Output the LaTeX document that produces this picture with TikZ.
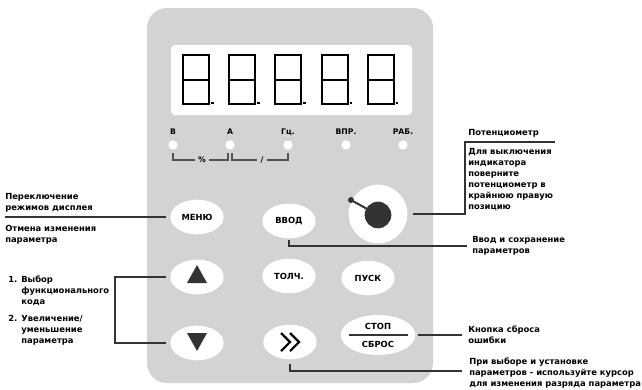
\documentclass[tikz,border=0pt]{standalone}
\usepackage{fontspec}
\setmainfont{DejaVu Sans}
\usetikzlibrary{shapes.geometric,positioning,calc}
\definecolor{panelgray}{HTML}{D3D3D3}
\definecolor{inkdark}{HTML}{333333}
\tikzset{
  key/.style={ellipse,fill=white,minimum width=40pt,minimum height=26pt,inner sep=0pt,font=\fontsize{6.3}{7}\selectfont\bfseries},
  keytxt/.style={inner sep=0pt,font=\fontsize{6.3}{7}\selectfont\bfseries},
  leader/.style={color=inkdark,line width=1.8pt,line cap=butt,line join=miter},
  note/.style={anchor=west,align=left,inner sep=0pt,font=\fontsize{6.3}{8.25}\selectfont\bfseries},
  led/.style={circle,fill=white,minimum size=7pt,inner sep=0pt},
  ledlabel/.style={inner sep=0.5pt,font=\fontsize{5.8}{7}\selectfont\bfseries},
  thinline/.style={color=inkdark!85,line width=0.9pt},
  segment/.style={draw=black,line width=1.4pt}
}
\begin{document}
\begin{tikzpicture}[x=0.75pt,y=-0.75pt]
  \useasboundingbox (0,0) rectangle (642,389);
  \path[fill=panelgray,rounded corners=15pt] (147,8) rectangle (433,383);
  \path[fill=white,rounded corners=3pt] (171,45) rectangle (412,115);
  \foreach \i in {0,...,4} {
    \draw[segment] (183+46.2*\i,55) rectangle +(26,49) (183+46.2*\i,80) -- +(26,0);
    \fill (211+46.2*\i,101.5) rectangle +(2.5,2.5);
  }

  \foreach \name/\x/\txt in {ledV/173/В,ledA/230/А,ledGc/288/Гц.,ledVpr/346/ВПР.,ledRab/403/РАБ.} {
    \node[led] (\name) at (\x,145) {};
    \node[ledlabel] (\name-t) at (\x,132) {\txt};
  }
  \node[ledlabel] (pct) at (202,160) {\%};
  \node[ledlabel] (slash) at (262,160) {/};
  \draw[thinline] ([yshift=-2pt]ledV.south) |- ([xshift=-2pt]pct.west);
  \draw[thinline] ([xshift=2pt]pct.east) -| ([xshift=-1.5pt,yshift=-2pt]ledA.south);
  \draw[thinline] ([xshift=-2pt]slash.west) -| ([xshift=1.5pt,yshift=-2pt]ledA.south);
  \draw[thinline] ([xshift=2pt]slash.east) -| ([yshift=-2pt]ledGc.south);

  \node[key] (menu) at (197,217) {МЕНЮ};
  \node[key] (vvod) at (289,221) {ВВОД};
  \node[key] (up) at (197,277) {};
  \node[key] (tolch) at (289,276) {ТОЛЧ.};
  \node[key] (pusk) at (368,278) {ПУСК};
  \node[key] (down) at (197,343) {};
  \node[key] (shiftkey) at (290,342) {};
  \node[key,minimum width=56pt,minimum height=30pt] (stop) at (378,335) {};
  \node[keytxt] (stop-t) at (378,326) {СТОП};
  \node[keytxt] (sbros-t) at (378,344) {СБРОС};
  \draw[leader,line width=1.6pt] ([xshift=6.5pt]stop.west) -- ([xshift=-6pt]stop.east);
  \fill[inkdark] (up.center) ++(0,-12) -- ++(10,18) -- ++(-20,0) -- cycle;
  \fill[inkdark] (down.center) ++(0,8) -- ++(10,-18) -- ++(-20,0) -- cycle;
  \draw[color=black,line width=1.6pt,line join=miter] (shiftkey.center) ++(-9,-9) -- ++(9,9) -- ++(-9,9) ++(9,-18) -- ++(9,9) -- ++(-9,9);

  \node[circle,fill=white,minimum size=44pt,inner sep=0pt] (pot) at (378,214) {};
  \node[circle,fill=inkdark,minimum size=20pt,inner sep=0pt] (knob) at (378,215) {};
  \node[circle,fill=inkdark,minimum size=4.5pt,inner sep=0pt] (lever) at (351,200) {};
  \draw[inkdark,line width=1.5pt] (lever.center) -- (knob.center);

  \coordinate (menuend) at (5,217);
  \coordinate (bracket) at (115,277);
  \coordinate (potknee) at (465,142);
  \coordinate (potend) at (555,142);
  \coordinate (vvodend) at (467,246);
  \coordinate (stopend) at (462,335);
  \coordinate (shiftend) at (462,371);
  \draw[leader] (menuend) -- ([xshift=-3pt]menu.west);
  \draw[leader] ([xshift=-3pt]up.west) -- (up.west -| bracket) |- ([xshift=-3pt]down.west);
  \draw[leader] ([xshift=4pt]pot.east) -| (potknee) -- (potend);
  \draw[leader] ([yshift=-1pt]vvod.south) |- (vvodend);
  \draw[leader] ([xshift=2pt]stop.east) -- (stopend);
  \draw[leader] ([yshift=-3pt]shiftkey.south) |- (shiftend);

  \node[note] (n-menu1) at (5,202.5) {Переключение\\режимов дисплея};
  \node[note] (n-menu2) at (5,234.5) {Отмена изменения\\параметра};
  \node[note] (n-arrows) at (8,311) {\begin{tabular}{@{}l@{\hspace{3pt}}l@{}}1. & Выбор\\ & функционального\\ & кода\\[4.5pt] 2. & Увеличение/\\ & уменьшение\\ & параметра\end{tabular}};
  \node[note] (n-pot) at (468,133) {Потенциометр};
  \node[note] (n-pot2) at (468,179.5) {Для выключения\\индикатора\\поверните\\потенциометр в\\крайнюю правую\\позицию};
  \node[note] (n-vvod) at (472,246) {Ввод и сохранение\\параметров};
  \node[note] (n-stop) at (468,335) {Кнопка сброса\\ошибки};
  \node[note] (n-shift) at (469,373) {При выборе и установке\\параметров - используйте курсор\\для изменения разряда параметра};
\end{tikzpicture}
\end{document}
